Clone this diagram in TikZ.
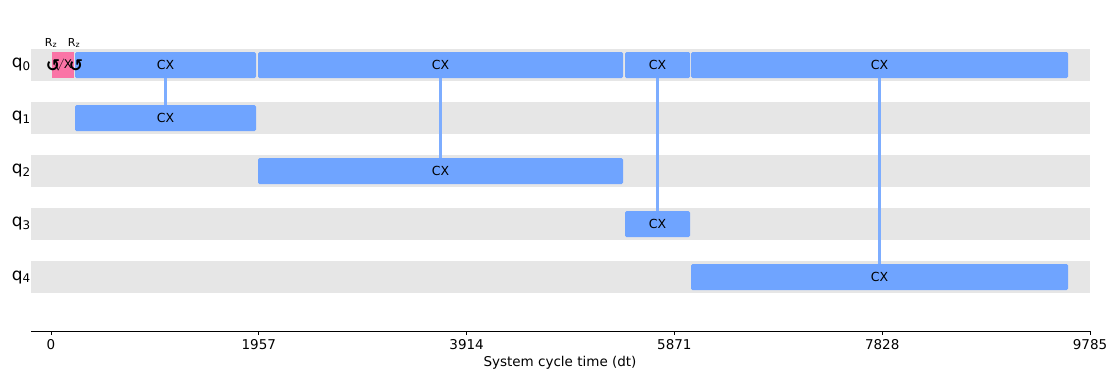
\documentclass[tikz,border=0pt]{standalone}
\usepackage{fontspec}
\setmainfont{DejaVu Sans}
\newfontfamily\symfont{DejaVu Sans}
\definecolor{bandgray}{HTML}{E6E6E6}
\definecolor{cxblue}{HTML}{6FA4FF}
\definecolor{sxpink}{HTML}{FA74A6}
\pgfdeclarelayer{bands}
\pgfdeclarelayer{links}
\pgfsetlayers{bands,links,main}
\tikzset{
  band/.style={fill=bandgray, draw=none},
  gatebox/.style={fill=cxblue, draw=none, rounded corners=1.5pt, inner sep=0pt,
    minimum height=26pt, font=\fontsize{12.5}{12.5}\selectfont, text=black},
  sxbox/.style={fill=sxpink, draw=none, inner sep=0pt, minimum height=26pt,
    font=\fontsize{12}{12}\selectfont},
  link/.style={draw=cxblue!90!white, line width=3pt},
  qlabel/.style={anchor=east, inner sep=0pt, font=\fontsize{17}{17}\selectfont},
  ticklabel/.style={anchor=north, inner sep=0pt, font=\fontsize{13.5}{14}\selectfont},
  rzlabel/.style={inner sep=0pt, font=\fontsize{11}{11}\selectfont},
  rzsym/.style={inner sep=0pt, font=\symfont\bfseries\fontsize{17}{17}\selectfont},
}
\begin{document}
\begin{tikzpicture}[x=1pt, y=-1pt]
\useasboundingbox (0,0) rectangle (1120,384);
% bands
\begin{pgfonlayer}{bands}
\foreach \i in {0,...,4} {
  \fill[band] (31,{49+53*\i}) rectangle (1090,{81+53*\i});
}
\end{pgfonlayer}
% qubit labels
\foreach \i in {0,...,4} {
  \node[qlabel] (ql\i) at (31,{65+53*\i}) {q\textsubscript{\i}};
}
% gates on q0
\node[sxbox, minimum width=22pt] (sx) at (63,65) {$\surd$X};
\node[gatebox, minimum width=181pt] (a0) at (165.5,65) {CX};
\node[gatebox, minimum width=365pt] (b0) at (440.5,65) {CX};
\node[gatebox, minimum width=65pt] (c0) at (657.5,65) {CX};
\node[gatebox, minimum width=377pt] (d0) at (879.5,65) {CX};
% targets
\node[gatebox, minimum width=181pt] (a1) at (165.5,118) {CX};
\node[gatebox, minimum width=365pt] (b2) at (440.5,171) {CX};
\node[gatebox, minimum width=65pt] (c3) at (657.5,224) {CX};
\node[gatebox, minimum width=377pt] (d4) at (879.5,277) {CX};
% Rz
\node[rzsym] (rz1) at (53,66) {↺};
\node[rzsym] (rz2) at (76,66) {↺};
\node[rzlabel] (rzl1) at (51,43) {R\textsubscript{z}};
\node[rzlabel] (rzl2) at (74,43) {R\textsubscript{z}};
% links
\begin{pgfonlayer}{links}
\draw[link] (a0.center) -- (a1.center);
\draw[link] (b0.center) -- (b2.center);
\draw[link] (c0.center) -- (c3.center);
\draw[link] (d0.center) -- (d4.center);
\end{pgfonlayer}
% axis
\coordinate (axl) at (31,331);
\coordinate (axr) at (1090,331);
\draw[line width=1pt] (axl) -- (axr);
\foreach \v [count=\k from 0] in {0,1957,3914,5871,7828,9785} {
  \coordinate (t\k) at ({51+207.8*\k},331);
  \draw[line width=0.8pt] (t\k) -- ++(0,4);
  \node[ticklabel] (tl\k) at ({51+207.8*\k},339) {\v};
}
\node[inner sep=0pt, font=\fontsize{13.5}{14}\selectfont] (xlab) at (560,363) {System cycle time (dt)};
\end{tikzpicture}
\end{document}
